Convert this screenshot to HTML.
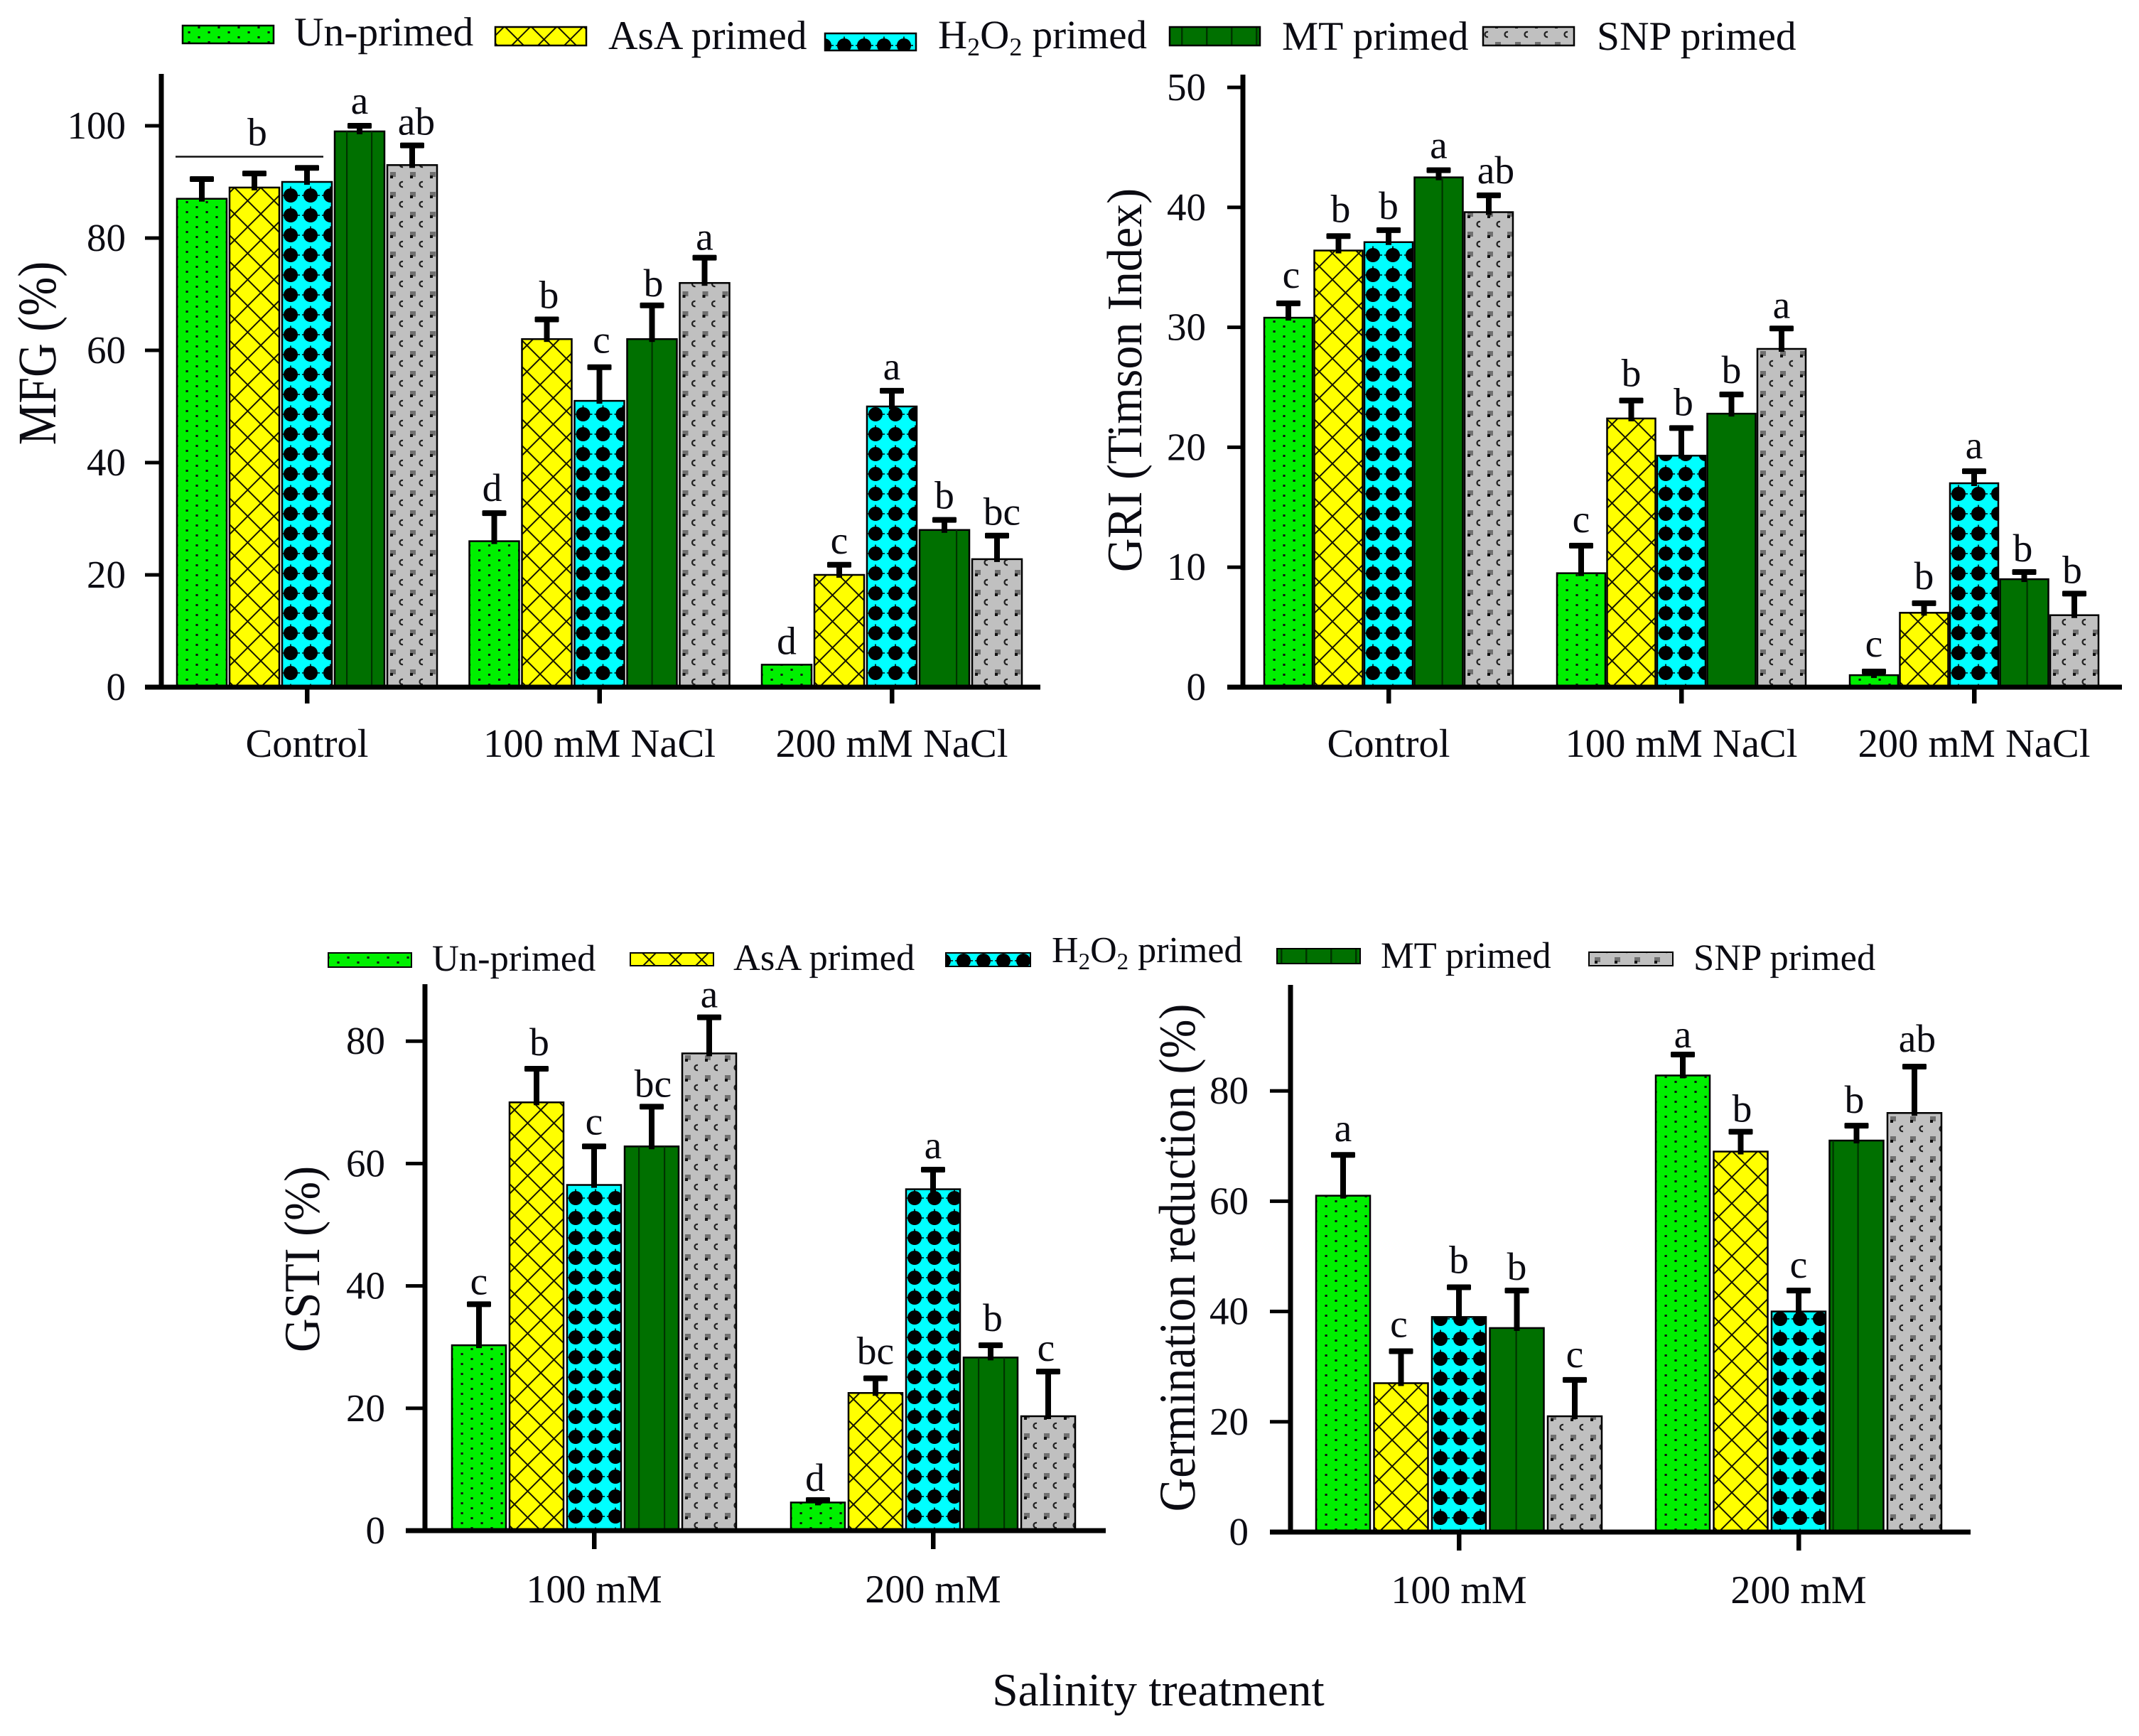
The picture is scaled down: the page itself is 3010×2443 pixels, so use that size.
<!DOCTYPE html>
<html>
<head>
<meta charset="utf-8">
<title>Germination charts</title>
<style>
html,body{margin:0;padding:0;background:#fff;}
svg{display:block;}
text{font-family:"Liberation Serif",serif;fill:#0b0b12;text-rendering:geometricPrecision;}
</style>
</head>
<body>
<svg id="figure" xmlns="http://www.w3.org/2000/svg" width="3010" height="2443" viewBox="0 0 3010 2443">
<defs id="defs">
<pattern id="p-green" patternUnits="userSpaceOnUse" width="28" height="14">
<rect width="28" height="14" fill="#00f000"/>
<rect x="12.5" y="2" width="3.2" height="3" fill="#111"/>
<rect x="0" y="9" width="1.6" height="3" fill="#111"/>
<rect x="26.4" y="9" width="1.6" height="3" fill="#111"/>
</pattern>
<pattern id="p-yellow" patternUnits="userSpaceOnUse" width="37" height="37">
<rect width="37" height="37" fill="#ffff00"/>
<path d="M-30 0L7 37M7 0L44 37M44 0L7 37M7 0L-30 37" stroke="#151500" stroke-width="2" fill="none"/>
</pattern>
<pattern id="p-cyan" patternUnits="userSpaceOnUse" width="28" height="28">
<rect width="28" height="28" fill="#00ffff"/>
<circle cx="12" cy="8" r="10" fill="#000"/>
<circle cx="12" cy="36" r="10" fill="#000"/>
<path d="M0 8H25M12 23.5V28" stroke="#000" stroke-width="1.6"/>
</pattern>
<pattern id="p-mt" patternUnits="userSpaceOnUse" width="35" height="35">
<rect width="35" height="35" fill="#007000"/>
<rect x="17" width="2.5" height="35" fill="#003300"/>
</pattern>
<pattern id="p-gray" patternUnits="userSpaceOnUse" width="28" height="28">
<rect width="28" height="28" fill="#c0c0c0"/>
<rect x="4" y="3" width="8" height="7" fill="#707070"/>
<rect x="4" y="8" width="4" height="4" fill="#111"/>
<path d="M22 17a3.6 3.6 0 1 0 0 7" stroke="#222" stroke-width="2.2" fill="none"/>
</pattern>
</defs>

<g id="legend-top">
<g>
<rect x="257" y="36" width="128" height="25" fill="url(#p-green)" stroke="#000" stroke-width="2.5"/>
<text x="414" y="64" font-size="57.5">Un-primed</text>
</g>
<g>
<rect x="697" y="38" width="128" height="26" fill="url(#p-yellow)" stroke="#000" stroke-width="2.5"/>
<text x="856" y="69" font-size="57.5">AsA primed</text>
</g>
<g>
<rect x="1161" y="47" width="128" height="24" fill="url(#p-cyan)" stroke="#000" stroke-width="2.5"/>
<text x="1320" y="68" font-size="57">H<tspan font-size="36" dy="10">2</tspan><tspan dy="-10">O</tspan><tspan font-size="36" dy="10">2</tspan><tspan dy="-10"> primed</tspan></text>
</g>
<g>
<rect x="1646" y="38" width="127" height="26" fill="url(#p-mt)" stroke="#000" stroke-width="2.5"/>
<text x="1804" y="70" font-size="57.5">MT primed</text>
</g>
<g>
<rect x="2087" y="38" width="128" height="26" fill="url(#p-gray)" stroke="#000" stroke-width="2.5"/>
<text x="2247" y="70" font-size="57.5">SNP primed</text>
</g>
</g>

<g id="legend-bottom">
<g>
<rect x="462" y="1341" width="117" height="20" fill="url(#p-green)" stroke="#000" stroke-width="2"/>
<text x="608" y="1366" font-size="52.5">Un-primed</text>
</g>
<g>
<rect x="887" y="1341" width="117" height="18" fill="url(#p-yellow)" stroke="#000" stroke-width="2"/>
<text x="1032" y="1365" font-size="52.5">AsA primed</text>
</g>
<g>
<rect x="1331" y="1341" width="119" height="19" fill="url(#p-cyan)" stroke="#000" stroke-width="2"/>
<text x="1480" y="1354" font-size="52">H<tspan font-size="33" dy="10">2</tspan><tspan dy="-10">O</tspan><tspan font-size="33" dy="10">2</tspan><tspan dy="-10"> primed</tspan></text>
</g>
<g>
<rect x="1797" y="1335" width="117" height="21" fill="url(#p-mt)" stroke="#000" stroke-width="2"/>
<text x="1943" y="1362" font-size="52.5">MT primed</text>
</g>
<g>
<rect x="2236" y="1340" width="118" height="19" fill="url(#p-gray)" stroke="#000" stroke-width="2"/>
<text x="2383" y="1365" font-size="52.5">SNP primed</text>
</g>
</g>

<text x="1630" y="2400" font-size="65.5" text-anchor="middle">Salinity treatment</text>
</svg>

<script>
// Series rows: Un-primed, AsA, H2O2, MT, SNP. Columns: treatment groups.
const seriesPatterns = ['p-green', 'p-yellow', 'p-cyan', null, 'p-gray'];
const seriesNames = ['un-primed', 'asa-primed', 'h2o2-primed', 'mt-primed', 'snp-primed'];

const mfgCategories = ['Control', '100 mM NaCl', '200 mM NaCl'];
const mfgTicks = [0, 20, 40, 60, 80, 100];
const mfgValues = [[87, 26, 4], [89, 62, 20], [90, 51, 50], [99, 62, 28], [93, 72, 22.8]];
const mfgErrors = [[3.5, 5, 0], [2.5, 3.5, 1.8], [2.5, 6, 2.8], [1, 6, 1.8], [3.5, 4.5, 4.2]];
const mfgLetters = [['', 'd', 'd'], ['', 'b', 'c'], ['', 'c', 'a'], ['a', 'b', 'b'], ['ab', 'a', 'bc']];
const mfgBracketValue = 94.5;

const griCategories = ['Control', '100 mM NaCl', '200 mM NaCl'];
const griTicks = [0, 10, 20, 30, 40, 50];
const griValues = [[30.8, 9.5, 1], [36.4, 22.4, 6.2], [37.1, 19.3, 17], [42.5, 22.8, 9], [39.6, 28.2, 6]];
const griErrors = [[1.2, 2.3, 0.3], [1.2, 1.5, 0.8], [1, 2.3, 1], [0.6, 1.6, 0.6], [1.4, 1.7, 1.8]];
const griLetters = [['c', 'c', 'c'], ['b', 'b', 'b'], ['b', 'b', 'a'], ['a', 'b', 'b'], ['ab', 'a', 'b']];

const gstiCategories = ['100 mM', '200 mM'];
const gstiTicks = [0, 20, 40, 60, 80];
const gstiValues = [[30.3, 4.6], [70, 22.5], [56.5, 55.8], [62.8, 28.3], [78, 18.7]];
const gstiErrors = [[6.7, 0.4], [5.5, 2.4], [6.3, 3.2], [6.5, 2], [5.9, 7.3]];
const gstiLetters = [['c', 'd'], ['b', 'bc'], ['c', 'a'], ['bc', 'b'], ['a', 'c']];

const redCategories = ['100 mM', '200 mM'];
const redTicks = [0, 20, 40, 60, 80];
const redValues = [[61, 82.8], [27, 69], [39, 40], [37, 71], [21, 76]];
const redErrors = [[7.4, 3.8], [5.8, 3.6], [5.4, 3.8], [6.8, 2.7], [6.6, 8.4]];
const redLetters = [['a', 'a'], ['c', 'b'], ['b', 'c'], ['b', 'b'], ['c', 'ab']];

// Layout only (pixel geometry and label nudges, not data)
const panels = [
  {key: 'mfg', title: 'MFG (%)', cats: mfgCategories, ticks: mfgTicks, vals: mfgValues, errs: mfgErrors, lets: mfgLetters,
   axisX: 227, top: 104, base: 967, pxPerUnit: 7.9, tickLeft: 204, axisRight: 1464, tickBottom: 990,
   c0: 432, groupStep: 411.5, step: 74, w: 70, tickLabelRight: 177, catBase: 1065, catFont: 56.6,
   titleX: 78, titleY: 497, titleStretch: 1.16,
   gaps: [[0, 17, 15], [0, 16, 16], [0, 20, 16], [17, 13, 16], [15, 11, 15]],
   dx: [[0, -3, 0], [0, 3, 0], [0, 3, 0], [0, 2, 0], [6, 0, 7]],
   mtLines: [[17, 52], [35], [52]]},
  {key: 'gri', title: 'GRI (Timson Index)', cats: griCategories, ticks: griTicks, vals: griValues, errs: griErrors, lets: griLetters,
   axisX: 1749, top: 105, base: 967, pxPerUnit: 16.88, tickLeft: 1727, axisRight: 2986, tickBottom: 990,
   c0: 1954, groupStep: 412, step: 70.5, w: 68, tickLabelRight: 1697, catBase: 1065, catFont: 56.6,
   titleX: 1606, titleY: 535, titleStretch: 1.06,
   gaps: [[22, 19, 21], [20, 20, 20], [16, 18, 18], [17, 16, 15], [17, 15, 15]],
   dx: [[4, 0, 0], [3, 0, 0], [0, 3, 0], [0, 0, -2], [10, 0, -3]],
   mtLines: [[39], [], [38]]},
  {key: 'gsti', title: 'GSTI (%)', cats: gstiCategories, ticks: gstiTicks, vals: gstiValues, errs: gstiErrors, lets: gstiLetters,
   axisX: 598, top: 1385, base: 2154, pxPerUnit: 8.61, tickLeft: 571, axisRight: 1556, tickBottom: 2180,
   c0: 836, groupStep: 477, step: 81, w: 76, tickLabelRight: 542, catBase: 2255, catFont: 56,
   titleX: 449, titleY: 1772, titleStretch: 1.08,
   gaps: [[14, 13], [19, 20], [17, 16], [14, 20], [14, 15]],
   dx: [[0, -4], [4, 0], [0, 0], [2, 3], [0, -3]],
   mtLines: [[20, 56], [21, 57]]},
  {key: 'red', title: 'Germination reduction (%)', cats: redCategories, ticks: redTicks, vals: redValues, errs: redErrors, lets: redLetters,
   axisX: 1816, top: 1386, base: 2156, pxPerUnit: 7.76, tickLeft: 1787, axisRight: 2773, tickBottom: 2182,
   c0: 2053, groupStep: 478, step: 81.5, w: 76, tickLabelRight: 1757, catBase: 2256, catFont: 56,
   titleX: 1681, titleY: 1770, titleStretch: 1.1,
   gaps: [[19, 10], [20, 14], [20, 18], [15, 18], [18, 21]],
   dx: [[0, 0], [-3, 2], [0, 0], [0, -3], [0, 4]],
   mtLines: [[37], [5, 40]]}
];

const NS = 'http://www.w3.org/2000/svg';
const root = document.getElementById('figure');
const defs = document.getElementById('defs');
let patternCount = 0;

function make(parent, tag, attrs, txt) {
  const el = document.createElementNS(NS, tag);
  for (const k in attrs) el.setAttribute(k, attrs[k]);
  if (txt !== undefined) el.textContent = txt;
  parent.appendChild(el);
  return el;
}

// Each bar's hatch tile is anchored to the bar's own left edge and the baseline.
function anchoredFill(base, x, y) {
  patternCount += 1;
  const id = 'anchored-' + patternCount;
  make(defs, 'pattern', {id: id, href: '#' + base, patternTransform: 'translate(' + x + ' ' + y + ')'});
  return 'url(#' + id + ')';
}

panels.forEach(function (p) {
  const yScale = function (v) { return p.base - v * p.pxPerUnit; };
  const groupCenter = function (g) { return p.c0 + g * p.groupStep; };
  const barCenter = function (g, s) { return groupCenter(g) + (s - 2) * p.step; };

  const g = make(root, 'g', {});
  
  

  // Bars, error bars and significance letters
  p.vals.forEach(function (row, s) {
    row.forEach(function (v, c) {
      const cx = barCenter(c, s);
      const left = cx - p.w / 2;
      const fill = seriesPatterns[s] ? anchoredFill(seriesPatterns[s], left, p.base) : '#007000';
      const bar = make(g, 'rect', {
        x: left, y: yScale(v), width: p.w, height: p.base - yScale(v),
        fill: fill, stroke: '#000', 'stroke-width': 2.5
      });
      
      

      if (seriesNames[s] === 'mt-primed') {
        p.mtLines[c].forEach(function (off) {
          const ln = make(g, 'rect', {x: left + off - 1, y: yScale(v), width: 2.2, height: p.base - yScale(v), fill: '#003300'});
          
          
        });
      }

      const err = p.errs[s][c];
      const topY = yScale(v + err);
      if (err > 0) {
        const stem = make(g, 'rect', {x: cx - 4, y: topY, width: 8, height: yScale(v) - topY + 4, fill: '#000'});
        
        
        const cap = make(g, 'rect', {x: cx - 17, y: topY - 4, width: 34, height: 8, rx: 1.5, fill: '#000'});
        
        
      }
      const letter = p.lets[s][c];
      if (letter) {
        const lab = make(g, 'text', {
          x: cx + p.dx[s][c], y: topY - p.gaps[s][c], 'font-size': 55.5, 'text-anchor': 'middle'
        }, letter);
        
        
      }
    });
  });

  // Y axis with ticks
  const yAxis = make(g, 'rect', {x: p.axisX - 3.5, y: p.top, width: 7, height: p.base - p.top + 3, fill: '#000'});
  
  
  p.ticks.forEach(function (t) {
    const tick = make(g, 'rect', {x: p.tickLeft, y: yScale(t) - 2.5, width: p.axisX - p.tickLeft, height: 5, fill: '#000'});
    
    
    const lab = make(g, 'text', {x: p.tickLabelRight, y: yScale(t) + 18, 'font-size': 55, 'text-anchor': 'end'}, String(t));
    
    
  });

  // X axis with ticks
  const xAxis = make(g, 'rect', {x: p.tickLeft, y: p.base - 3.5, width: p.axisRight - p.tickLeft, height: 7, fill: '#000'});
  
  
  p.cats.forEach(function (cat, c) {
    const tick = make(g, 'rect', {x: groupCenter(c) - 3, y: p.base, width: 6.5, height: p.tickBottom - p.base, fill: '#000'});
    
    
    const lab = make(g, 'text', {x: groupCenter(c), y: p.catBase, 'font-size': p.catFont, 'text-anchor': 'middle'}, cat);
    
    
  });

  // Y axis title
  const title = make(g, 'text', {
    x: 0, y: 0, 'font-size': 66, 'text-anchor': 'middle',
    transform: 'translate(' + p.titleX + ' ' + p.titleY + ') rotate(-90) scale(1 ' + p.titleStretch + ')'
  }, p.title);
  
  

  // Shared significance bracket on the first three Control bars
  if (p.key === 'mfg') {
    const by = yScale(mfgBracketValue);
    const bracket = make(g, 'rect', {x: barCenter(0, 0) - 37, y: by - 1.2, width: barCenter(0, 2) + 23 - (barCenter(0, 0) - 37), height: 2.5, fill: '#111'});
    
    
    const bl = make(g, 'text', {x: barCenter(0, 1) + 4, y: by - 16, 'font-size': 55.5, 'text-anchor': 'middle'}, 'b');
    
    
  }
});
</script>
</body>
</html>
